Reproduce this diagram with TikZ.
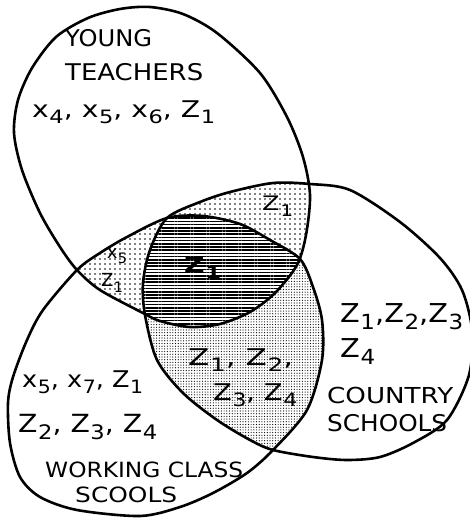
\documentclass[tikz,border=0pt]{standalone}
\usepackage{fontspec}
\usepackage{graphicx}
\setmainfont{DejaVu Sans}
\usetikzlibrary{patterns.meta}
\newcommand{\lsub}[1]{\kern0.5pt\raisebox{-0.3em}{\scalebox{0.8}{#1}}}
\newcommand{\fw}[2]{\resizebox{#1}{\height}{#2}}
\begin{document}
\begin{tikzpicture}[x=1pt,y=-1pt,
  outl/.style={line width=2.6pt, line join=round},
  lab/.style={inner sep=0pt, anchor=base west},
  sml/.style={inner sep=0pt, anchor=center, font=\fontsize{18}{19}\selectfont},
  sparse/.style={pattern={Dots[radius=0.8pt, distance=5pt]}},
  dense/.style={pattern={Dots[radius=0.6pt, distance=2.7pt]}},
  hatch/.style={pattern={Lines[angle=0, distance=3.2pt, line width=1.5pt]}},
]
\useasboundingbox (0,0) rectangle (470,519);
\def\pY{plot[smooth cycle] coordinates {(150,7) (183,14) (217,33) (260,73) (287,117) (303,157) (310,195) (306,235) (297,265) (275,293) (250,312) (220,324) (190,327) (160,321) (143,313) (100,290) (77,270) (60,247) (40,213) (22,170) (14,133) (18,100) (32,68) (56,37) (88,18) (120,9)}}
\def\pW{plot[smooth cycle] coordinates {(167,218) (203,216) (240,224) (270,240) (300,259) (313,287) (322,320) (322,360) (307,410) (273,450) (247,473) (213,493) (180,507) (140,516) (77,510) (40,497) (20,477) (10,443) (8,403) (13,377) (27,340) (43,310) (77,270) (100,253) (127,237)}}
\def\pC{plot[smooth cycle] coordinates {(167,218) (200,202) (230,192) (273,183) (310,184) (350,190) (400,222) (440,258) (462,290) (472,330) (469,375) (447,420) (413,443) (380,457) (347,460) (313,457) (273,450) (250,440) (217,420) (183,393) (157,360) (145,315) (143,283) (150,250)}}
% pairwise intersections
\begin{scope}\clip \pY; \fill[sparse] \pC; \end{scope}
\begin{scope}\clip \pY; \fill[sparse] \pW; \end{scope}
\begin{scope}\clip \pW; \fill[dense] \pC; \end{scope}
% triple intersection
\begin{scope}\clip \pY; \clip \pW; \fill[white] \pC; \fill[hatch] \pC; \end{scope}
% outlines
\draw[outl] \pY;
\draw[outl] \pW;
\draw[outl] \pC;
% labels
\node[lab, font=\fontsize{23}{24}\selectfont] (yt1) at (65,47) {\fw{87pt}{YOUNG}};
\node[lab, font=\fontsize{23}{24}\selectfont] (yt2) at (65,80) {\fw{138pt}{TEACHERS}};
\node[lab, font=\fontsize{23}{24}\selectfont] (yx) at (32,117) {\fw{183pt}{x\lsub{4}, x\lsub{5}, x\lsub{6}, Z\lsub{1}}};
\node[lab, font=\fontsize{20}{22}\selectfont] (yc) at (262,210) {\fw{31pt}{Z\lsub{1}}};
\node[sml] (yw1) at (117,256) {x\lsub{5}};
\node[sml] (yw2) at (112,283) {Z\lsub{1}};
\node[lab, font=\bfseries\fontsize{21}{22}\selectfont] (ywc) at (184,272) {\fw{37pt}{Z\lsub{1}}};
\node[lab, font=\fontsize{23}{24}\selectfont] (wc1) at (188,365) {\fw{105pt}{Z\lsub{1}, Z\lsub{2},}};
\node[lab, font=\fontsize{23}{24}\selectfont] (wc2) at (213,400) {\fw{84pt}{Z\lsub{3}, Z\lsub{4}}};
\node[lab, font=\fontsize{26}{27}\selectfont] (c1) at (340,322) {\fw{123pt}{Z\lsub{1},Z\lsub{2},Z\lsub{3}}};
\node[lab, font=\fontsize{26}{27}\selectfont] (c2) at (340,357) {\fw{35pt}{Z\lsub{4}}};
\node[lab, font=\fontsize{22}{23}\selectfont] (c3) at (327,403) {\fw{126pt}{COUNTRY}};
\node[lab, font=\fontsize{23}{24}\selectfont] (c4) at (327,431) {\fw{120pt}{SCHOOLS}};
\node[lab, font=\fontsize{23}{24}\selectfont] (w1) at (22,387) {\fw{121pt}{x\lsub{5}, x\lsub{7}, Z\lsub{1}}};
\node[lab, font=\fontsize{25}{26}\selectfont] (w2) at (18,432) {\fw{139pt}{Z\lsub{2}, Z\lsub{3}, Z\lsub{4}}};
\node[lab, font=\fontsize{21}{22}\selectfont] (w3) at (45,477) {\fw{198pt}{WORKING CLASS}};
\node[lab, font=\fontsize{21}{22}\selectfont] (w4) at (75,502) {\fw{102pt}{SCOOLS}};
\end{tikzpicture}
\end{document}
